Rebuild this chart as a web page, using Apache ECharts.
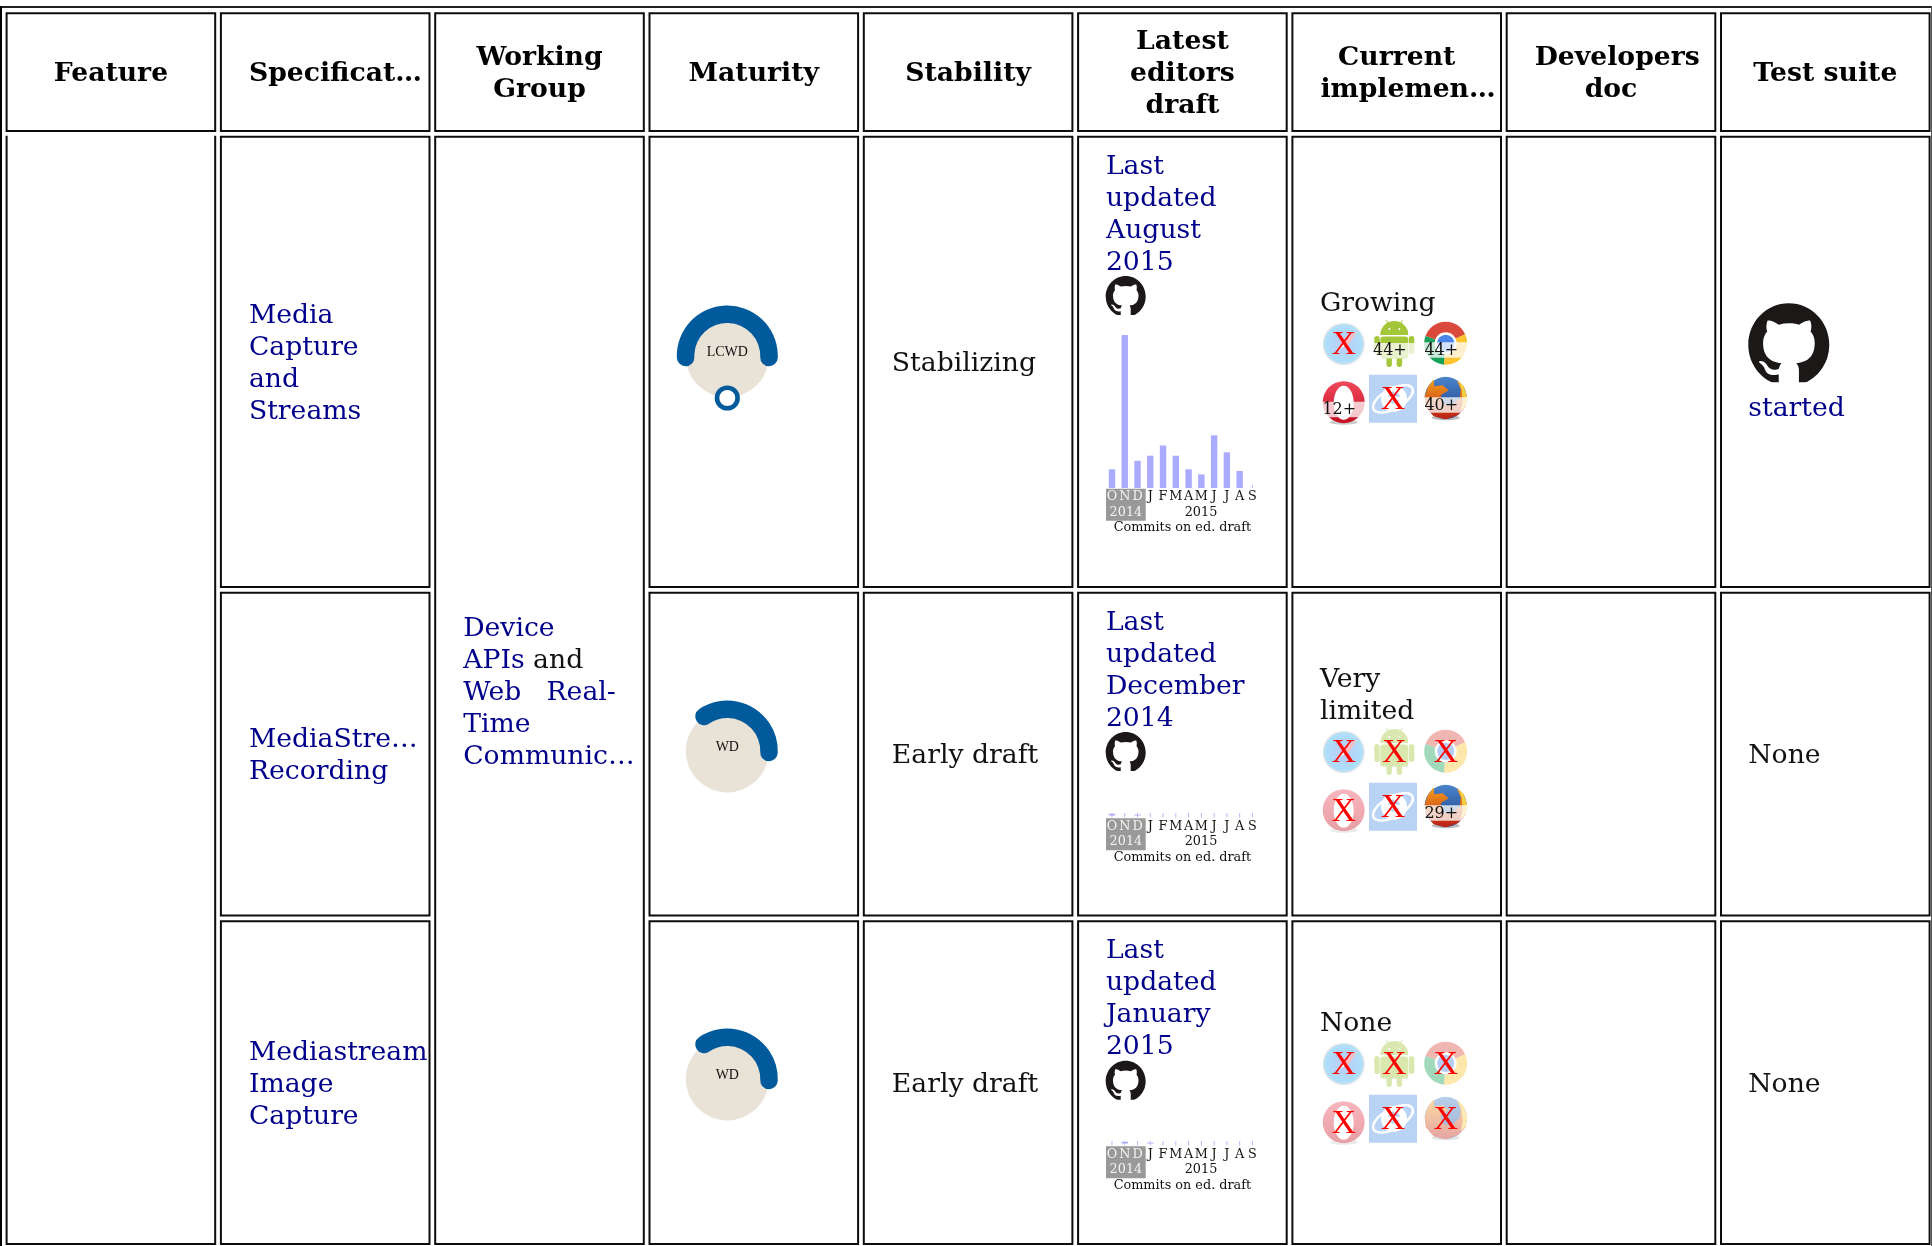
<!DOCTYPE html>
<html><head><meta charset="utf-8"><style>html,body{margin:0;padding:0;background:#fff}#c{width:1932px;height:1246px}</style></head>
<body><div id="c"></div>
<script src="https://cdn.jsdelivr.net/npm/echarts@6/dist/echarts.min.js"></script>
<script>
// ---------- data ----------
const headers = [['Feature'],['Specificat…'],['Working','Group'],['Maturity'],['Stability'],['Latest','editors','draft'],['Current','implemen…'],['Developers','doc'],['Test suite']];
const specNames = [['Media','Capture','and','Streams'],['MediaStre…','Recording'],['Mediastream','Image','Capture']];
const maturity = ['LCWD','WD','WD'];
const stability = ['Stabilizing','Early draft','Early draft'];
const draftDates = [['Last','updated','August','2015'],['Last','updated','December','2014'],['Last','updated','January','2015']];
const implStatus = [['Growing'],['Very','limited'],['None']];
const testSuite = ['started','None','None'];
const months = ['O','N','D','J','F','M','A','M','J','J','A','S'];
const commitsRow1 = [11,90,16,19,25,19,11,8,31,21,10,0];
const commitsRow2 = [1,0,0.5,0,0,0,0,0,0,0,0,0];
const commitsRow3 = [0,1,0,0.5,0,0,0,0,0,0,0,0];
const browsers = ['safari','android','chrome','opera','ie','firefox'];
const supportRow1 = [null,'44+','44+','12+',null,'40+'];
const supportRow2 = [null,null,null,null,null,'29+'];
const supportRow3 = [null,null,null,null,null,null];

// ---------- layout ----------
const W=1932,H=1246;
const colX=i=>6.6+214.3*i, colW=208.6, pad=28;
const rowsY=[[13.3,131],[136.7,587],[592.7,915.5],[921.2,1244]];
const SERIF='"DejaVu Serif",serif';
const LINK='#00008b', INK='#111111', LH=32, F=26.67;
const fBody=F+'px '+SERIF, fBold='bold '+F+'px '+SERIF, fSmall='12.8px '+SERIF;
const baseY=[488,817.5,1145.5];
const barL=1105.6, barW=153.2, barH=153;

// cells: [col0,row0,col1,row1]
const cells=[];
for(let c=0;c<9;c++)cells.push([c,0,c,0]);
[0,2].forEach(c=>cells.push([c,1,c,3]));
[1,3,4,5,6,7,8].forEach(c=>{for(let r=1;r<=3;r++)cells.push([c,r,c,r]);});

// text items
const measure=(()=>{const x=document.createElement('canvas').getContext('2d');return(t,f)=>{x.font=f;return x.measureText(t).width;};})();
const texts=[];
const T=(text,x,y,font,fill,align)=>texts.push({text,x,y:y+(font===fSmall?1:2.4),font,fill,align:align||'left'});
const block=(lines,x,cy,font,fill)=>lines.forEach((l,i)=>T(l,x,cy+(i-(lines.length-1)/2)*LH,font,fill));
const rowC=r=>(rowsY[r+1][0]+rowsY[r+1][1])/2;
headers.forEach((ls,c)=>{
  const cy=(rowsY[0][0]+rowsY[0][1])/2;
  ls.forEach((l,i)=>{
    const y=cy+(i-(ls.length-1)/2)*LH;
    if(measure(l,fBold)>colW-2*pad) T(l,colX(c)+pad,y,fBold,'#000');
    else T(l,colX(c)+colW/2,y,fBold,'#000','center');
  });
});
for(let r=0;r<3;r++){
  block(specNames[r],colX(1)+pad,rowC(r),fBody,LINK);
  T(stability[r],colX(4)+pad,rowC(r),fBody,INK);
  const top=[165,621,949][r];
  draftDates[r].forEach((l,i)=>T(l,colX(5)+pad-0.2,top+i*LH,fBody,LINK));
  const b=baseY[r]+1;
  T('2014',colX(5)+pad+19.8,b+22.3,fSmall,'#f2f2f2','center');
  T('2015',1201,b+22.3,fSmall,INK,'center');
  T('Commits on ed. draft',colX(5)+colW/2,b+37.7,fSmall,INK,'center');
  const ic=[302,693.6,1021.4][r];
  block(implStatus[r],colX(6)+pad-0.5,ic,fBody,INK);
}
T(testSuite[0],colX(8)+pad-0.7,406.3,fBody,LINK);
T(testSuite[1],colX(8)+pad-0.7,rowC(1),fBody,INK);
T(testSuite[2],colX(8)+pad-0.7,rowC(2),fBody,INK);
// working group
const wgC=(rowsY[1][0]+rowsY[3][1])/2, wgX=colX(2)+pad;
T('Device',wgX,wgC-2*LH,fBody,LINK);
T('APIs',wgX,wgC-LH,fBody,LINK);
T(' and',wgX+measure('APIs',fBody),wgC-LH,fBody,INK);
T('Web',wgX,wgC,fBody,LINK);
T('Real-',colX(2)+colW-pad,wgC,fBody,LINK,'right');
T('Time',wgX,wgC+LH,fBody,LINK);
T('Communic…',wgX,wgC+2*LH,fBody,LINK);

// github marks: [x, y, size]
const GH='M8 0C3.58 0 0 3.58 0 8c0 3.54 2.29 6.53 5.47 7.59.4.07.55-.17.55-.38 0-.19-.01-.82-.01-1.49-2.01.37-2.53-.49-2.69-.94-.09-.23-.48-.94-.82-1.13-.28-.15-.68-.52-.01-.53.63-.01 1.08.58 1.23.82.72 1.21 1.87.87 2.33.66.07-.52.28-.87.51-1.07-1.78-.2-3.64-.89-3.64-3.95 0-.87.31-1.59.82-2.15-.08-.2-.36-1.02.08-2.12 0 0 .67-.21 2.2.82.64-.18 1.32-.27 2-.27.68 0 1.36.09 2 .27 1.53-1.04 2.2-.82 2.2-.82.44 1.1.16 1.92.08 2.12.51.56.82 1.27.82 2.15 0 3.07-1.87 3.75-3.65 3.95.29.25.54.73.54 1.48 0 1.07-.01 1.93-.01 2.2 0 .21.15.46.55.38A8.013 8.013 0 0 0 16 8c0-4.42-3.58-8-8-8z';
const ghMarks=[[1105.7,276,40],[1105.7,732,40],[1105.7,1060.7,40],[1748.3,303.3,81]];
// gray month boxes
const grayBoxes=baseY.map(b=>[1106,b+0.8,1145.7,b+32.8]);
// browser icon slots, relative to each row's block
const iconDY=[0,408,720];
const iconCenters={safari:[1343.7,344],android:[1394.3,344],chrome:[1445.7,343.3],opera:[1343.7,402.7],ie:[1393,398.8],firefox:[1445.7,398.3]};

// ---------- icons ----------
function grad(a,b){return new echarts.graphic.LinearGradient(0,0,0,1,[{offset:0,color:a},{offset:1,color:b}]);}
function rgrad(a,b){return new echarts.graphic.RadialGradient(.5,.5,.5,[{offset:0,color:a},{offset:1,color:b}]);}
function circle(cx,cy,r,fill,extra){return Object.assign({type:'circle',shape:{cx,cy,r},style:{fill}},extra||{});}
function rect(x,y,w,h,fill,rr){return {type:'rect',shape:{x,y,width:w,height:h,r:rr||0},style:{fill}};}
function sector(r,r0,a,b,fill){return {type:'sector',shape:{cx:0,cy:0,r,r0,startAngle:a*Math.PI/180,endAngle:b*Math.PI/180,clockwise:true},style:{fill}};}
function poly(points,fill,smooth){return {type:'polygon',shape:{points,smooth:smooth||0},style:{fill}};}
const iconDraw={
  safari:()=>[circle(0,0,21,'#aab6c4'),circle(0,0,19.5,rgrad('#5a78ea','#2fb4f2')),
    poly([[-8,8],[9,-9],[1,2]],'#f4f4f4'),poly([[14,-13],[-3,-2],[3,3]],'#ee5a5a')],
  android:()=>[
    {type:'line',shape:{x1:-8,y1:-24,x2:-5,y2:-18},style:{stroke:'#a4c639',lineWidth:1}},
    {type:'line',shape:{x1:8,y1:-24,x2:5,y2:-18},style:{stroke:'#a4c639',lineWidth:1}},
    {type:'sector',shape:{cx:0,cy:-9,r:14,r0:0,startAngle:Math.PI,endAngle:2*Math.PI,clockwise:true},style:{fill:'#a4c639'}},
    circle(-5,-15,1,'#fff'),circle(5,-15,1,'#fff'),
    rect(-14,-7.5,28,22,'#a4c639',3),rect(-20,-8,5.4,18,'#a4c639',2.7),rect(14.6,-8,5.4,18,'#a4c639',2.7),
    rect(-7.8,10,5.4,13,'#a4c639',2.7),rect(2.4,10,5.4,13,'#a4c639',2.7)],
  chrome:()=>[sector(21.5,0,-160,-25,'#d9493c'),sector(21.5,0,-25,95,'#fdc42f'),sector(21.5,0,95,200,'#16a05a'),
    circle(0,0,11,'#fff'),circle(0,0,8.6,'#4a86ea')],
  opera:()=>[{type:'ellipse',shape:{cx:0,cy:19.5,rx:14,ry:2.5},style:{fill:'#ccc'}},
    circle(0,-0.5,21,grad('#f04a5c','#c40f22')),{type:'ellipse',shape:{cx:0,cy:0,rx:10,ry:17},style:{fill:'#fff'}}],
  ie:()=>[rect(-24,-24,48,48,'#5091e6'),
    {type:'ellipse',shape:{cx:0,cy:0,rx:22,ry:10},rotation:0.5,style:{fill:'none',stroke:'#fff',lineWidth:2.5}},
    circle(1,0,13,'#fff'),circle(1,-1,6,'#5091e6'),rect(-5,-2,13,3.5,'#fff')],
  firefox:()=>[{type:'ellipse',shape:{cx:0,cy:19.5,rx:14,ry:2.5},style:{fill:'#bbb'}},
    circle(0,-0.5,21,grad('#4a84cc','#1d3f86')),
    poly([[-21,-2],[-18,-11],[-12,-19],[-11.5,-12],[-3,-13],[3,-8],[-5,-3],[-3,6],[6,7],[14,0],[15,-9],[11,-18],[18,-12],[21.5,-1],[20,9],[12,17],[0,21],[-12,18],[-20,9]],grad('#f5a01e','#bb1d16')),
    poly([[13,-17],[18,-12],[21.5,-1],[20,8],[15,13],[17,3],[16,-8]],'#f7cf45')]
};

// ---------- series helpers ----------
const pxSeries=(name,z,data,render)=>({type:'custom',name,xAxisIndex:0,yAxisIndex:0,z,silent:true,clip:false,coordinateSystem:'cartesian2d',encode:{x:0,y:1},data,renderItem:render});

const cellSeries=pxSeries('cells',1,cells,(p,api)=>{
  const [c0,r0,c1,r1]=cells[p.dataIndex];
  const a=api.coord([colX(c0),rowsY[r0][0]]),b=api.coord([colX(c1)+colW,rowsY[r1][1]]);
  if(c0===0&&r0===1) // the Feature body cell is open at its top
    return {type:'polyline',shape:{points:[[a[0],a[1]-1],[a[0],b[1]],[b[0],b[1]],[b[0],a[1]-1]]},style:{fill:'none',stroke:'#0c0c0c',lineWidth:2}};
  return {type:'rect',shape:{x:a[0],y:a[1],width:b[0]-a[0],height:b[1]-a[1]},style:{fill:'none',stroke:'#0c0c0c',lineWidth:2}};
});
const tableEdge=pxSeries('tableEdge',1,[0],(p,api)=>({type:'group',children:[
  {type:'rect',shape:{x:0,y:6,width:W,height:2},style:{fill:'#222'}},
  {type:'rect',shape:{x:0,y:6,width:2,height:H},style:{fill:'#000'}},
  {type:'rect',shape:{x:W-1,y:6,width:1,height:H},style:{fill:'#555'}}]}));
const grayRects=pxSeries('grayBoxes',1,grayBoxes,(p,api)=>{
  const g=grayBoxes[p.dataIndex],a=api.coord([g[0],g[1]]),b=api.coord([g[2],g[3]]);
  return {type:'rect',shape:{x:a[0],y:a[1],width:b[0]-a[0],height:b[1]-a[1]},style:{fill:'#999999'}};
});
const textSeries=pxSeries('texts',6,texts,(p,api)=>{
  const t=texts[p.dataIndex],a=api.coord([t.x,t.y]);
  return {type:'text',style:{text:t.text,x:a[0],y:a[1],font:t.font,fill:t.fill,align:t.align,verticalAlign:'middle'}};
});
const ghSeries=pxSeries('github',6,ghMarks,(p,api)=>{
  const g=ghMarks[p.dataIndex],a=api.coord([g[0],g[1]]);
  return {type:'group',children:[
    {type:'path',shape:{pathData:GH,layout:'cover',x:a[0],y:a[1],width:g[2],height:g[2]},style:{fill:'#1b1817'}},
    {type:'rect',shape:{x:a[0]-1,y:a[1]+g[2]*.975,width:g[2]+2,height:g[2]*.05},style:{fill:'#fff'}}]};
});
const iconCells=[];
[supportRow1,supportRow2,supportRow3].forEach((row,r)=>browsers.forEach((b,i)=>iconCells.push({r,b,label:row[i]})));
const iconSeries=pxSeries('browsers',6,iconCells,(p,api)=>{
  const it=iconCells[p.dataIndex],cc=iconCenters[it.b],a=api.coord([cc[0],cc[1]+iconDY[it.r]]);
  const ch=iconDraw[it.b]().slice();
  const size=24;
  if(it.label){
    const top=-1;
    ch.push({type:'rect',shape:{x:-22,y:top,width:44,height:15.5},style:{fill:'#fff',opacity:.76}});
    ch.push({type:'text',style:{text:it.label,x:-21.3,y:top+8.3,font:'16px '+SERIF,fill:INK,align:'left',verticalAlign:'middle'}});
  }else{
    ch.push({type:'rect',shape:{x:-size-1,y:-size-1,width:2*size+2,height:2*size+2},style:{fill:'#fff',opacity:.6}});
    ch.push({type:'text',style:{text:'X',x:0,y:1.5,font:'34px "Liberation Serif",serif',fill:'#ff0000',align:'center',verticalAlign:'middle'}});
  }
  return {type:'group',x:a[0],y:a[1],children:ch};
});

// maturity badges
const matCenters=[[727.3,356],[727.3,751],[727.3,1079]];
const arcs=[[182,-2],[124,-2],[124,-2]];
const matSeries=[];
maturity.forEach((m,i)=>{
  matSeries.push({type:'pie',silent:true,z:2,center:matCenters[i],radius:[0,41.5],label:{show:false},labelLine:{show:false},
    itemStyle:{color:'#e9e2d6'},data:[{value:1,name:m}],animation:false});
  matSeries.push({type:'gauge',silent:true,z:3,center:matCenters[i],radius:50.5,min:0,max:1,startAngle:arcs[i][0],endAngle:arcs[i][1],
    axisLine:{show:false},axisTick:{show:false},splitLine:{show:false},axisLabel:{show:false},pointer:{show:false},anchor:{show:false},
    progress:{show:true,width:17.5,roundCap:true,itemStyle:{color:'#005a9c'}},
    title:{show:true,offsetCenter:[0,-4],fontSize:14,fontFamily:'"Liberation Serif",serif',color:'#111'},
    detail:{show:false},data:[{value:1,name:m}]});
});
const ringSeries=pxSeries('candidateRing',6,[matCenters[0]],(p,api)=>{
  const a=api.coord([727.3,398]);
  return {type:'circle',shape:{cx:a[0],cy:a[1],r:10.3},style:{fill:'#fff',stroke:'#005a9c',lineWidth:4.6}};
});

// commits bar charts
const commits=[commitsRow1,commitsRow2,commitsRow3];
const lift=[commitsRow1.map(()=>0),commitsRow2.map(v=>v?1.2:0),commitsRow3.map(v=>v?1.2:0)];
const ticks=[[0,0,0,0,0,0,0,0,0,0,0,1.8],commitsRow2.map(()=>2.6),commitsRow3.map(()=>2.6)];
const grids=[{left:0,top:0,width:W,height:H}],xAxes=[{type:'value',min:0,max:W,show:false,gridIndex:0}],yAxes=[{type:'value',min:0,max:H,inverse:true,show:false,gridIndex:0}],barSeries=[];
baseY.forEach((b,i)=>{
  const g=i+1;
  grids.push({left:barL,top:b-barH,width:barW,height:barH});
  xAxes.push({type:'category',gridIndex:g,data:months,z:5,axisLine:{show:false},axisTick:{show:false},
    axisLabel:{interval:0,margin:2.5,fontFamily:SERIF,fontSize:12.8,color:(v,idx)=>idx<3?'#f2f2f2':'#111'}});
  yAxes.push({type:'value',gridIndex:g,min:0,max:90,show:false});
  barSeries.push({type:'bar',name:'lift',xAxisIndex:g,yAxisIndex:g,stack:'c'+g,barWidth:6.4,silent:true,itemStyle:{color:'transparent'},data:lift[i]});
  barSeries.push({type:'bar',name:'commits',xAxisIndex:g,yAxisIndex:g,stack:'c'+g,barWidth:6.4,silent:true,itemStyle:{color:'#aaaaff'},data:commits[i]});
  barSeries.push({type:'custom',name:'ticks',xAxisIndex:g,yAxisIndex:g,z:2,silent:true,encode:{x:0,y:1},
    data:ticks[i].map((v,k)=>[k,v]),renderItem:(p,api)=>{
      const t=api.coord([api.value(0),api.value(1)]),o=api.coord([api.value(0),0]);
      if(api.value(1)===0)return null;
      return {type:'rect',shape:{x:t[0]-.5,y:t[1],width:1,height:o[1]-t[1]},style:{fill:'#b8b8ff'}};
    }});
});

const chart=echarts.init(document.getElementById('c'),null,{renderer:'canvas',width:W,height:H});
chart.setOption({animation:false,backgroundColor:'#fff',grid:grids,xAxis:xAxes,yAxis:yAxes,
  series:[tableEdge,cellSeries,grayRects].concat(matSeries,barSeries,[ringSeries,ghSeries,iconSeries,textSeries])});
</script></body></html>
